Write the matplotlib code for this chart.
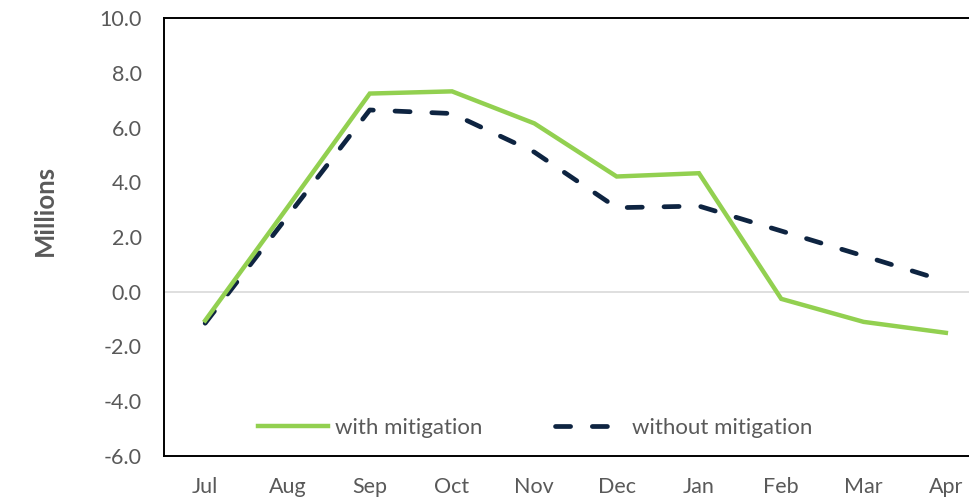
import matplotlib.pyplot as plt
import numpy as np

# data (millions)
months = ['Jul', 'Aug', 'Sep', 'Oct', 'Nov', 'Dec', 'Jan', 'Feb', 'Mar', 'Apr']
with_mitigation = [-1.05, 3.08, 7.24, 7.32, 6.15, 4.21, 4.33, -0.26, -1.10, -1.50]
without_mitigation = [-1.15, 2.75, 6.64, 6.51, 5.10, 3.07, 3.13, 2.22, 1.31, 0.38]
y_ticks = [-6, -4, -2, 0, 2, 4, 6, 8, 10]

plt.rcParams['font.family'] = ['Lato', 'DejaVu Sans']
grey = '#595959'

fig = plt.figure(figsize=(9.69, 4.99), dpi=100)
ax = fig.add_axes([164 / 969, 1 - 456 / 499, 823 / 969, 438 / 499])

x = np.arange(len(months))
ax.axhline(0, color='#d9d9d9', lw=1.2, zorder=1)
ax.plot(x, with_mitigation, color='#92d050', lw=3.2, label='with mitigation',
        solid_joinstyle='miter', zorder=3)
ax.plot(x, without_mitigation, color='#0e2441', lw=3.4, label='without mitigation',
        dashes=(3.2, 4.6), dash_capstyle='round', zorder=2)

ax.set_xlim(-0.5, len(months) - 0.5)
ax.set_ylim(-6, 10)
ax.set_xticks(x)
ax.set_xticklabels(months)
ax.set_yticks(y_ticks)
ax.set_yticklabels([f'{v:.1f}' for v in y_ticks])
ax.tick_params(axis='both', length=0, labelsize=15.5, labelcolor=grey)
ax.tick_params(axis='y', pad=16)
ax.tick_params(axis='x', pad=15)

for s in ax.spines.values():
    s.set_color('black')
    s.set_linewidth(1.4)

fig.text(45 / 969, 1 - 210 / 499, 'Millions', rotation=90, ha='center', va='center',
         fontsize=18.5, fontweight='bold', color=grey)

ax.legend(loc='center left', bbox_to_anchor=(94 / 823, 28 / 438), ncol=2, frameon=False,
          fontsize=16, labelcolor=grey, handlelength=3.15, columnspacing=3.25,
          handletextpad=0.32, borderpad=0, borderaxespad=0)

fig.savefig('out.png', dpi=100)
